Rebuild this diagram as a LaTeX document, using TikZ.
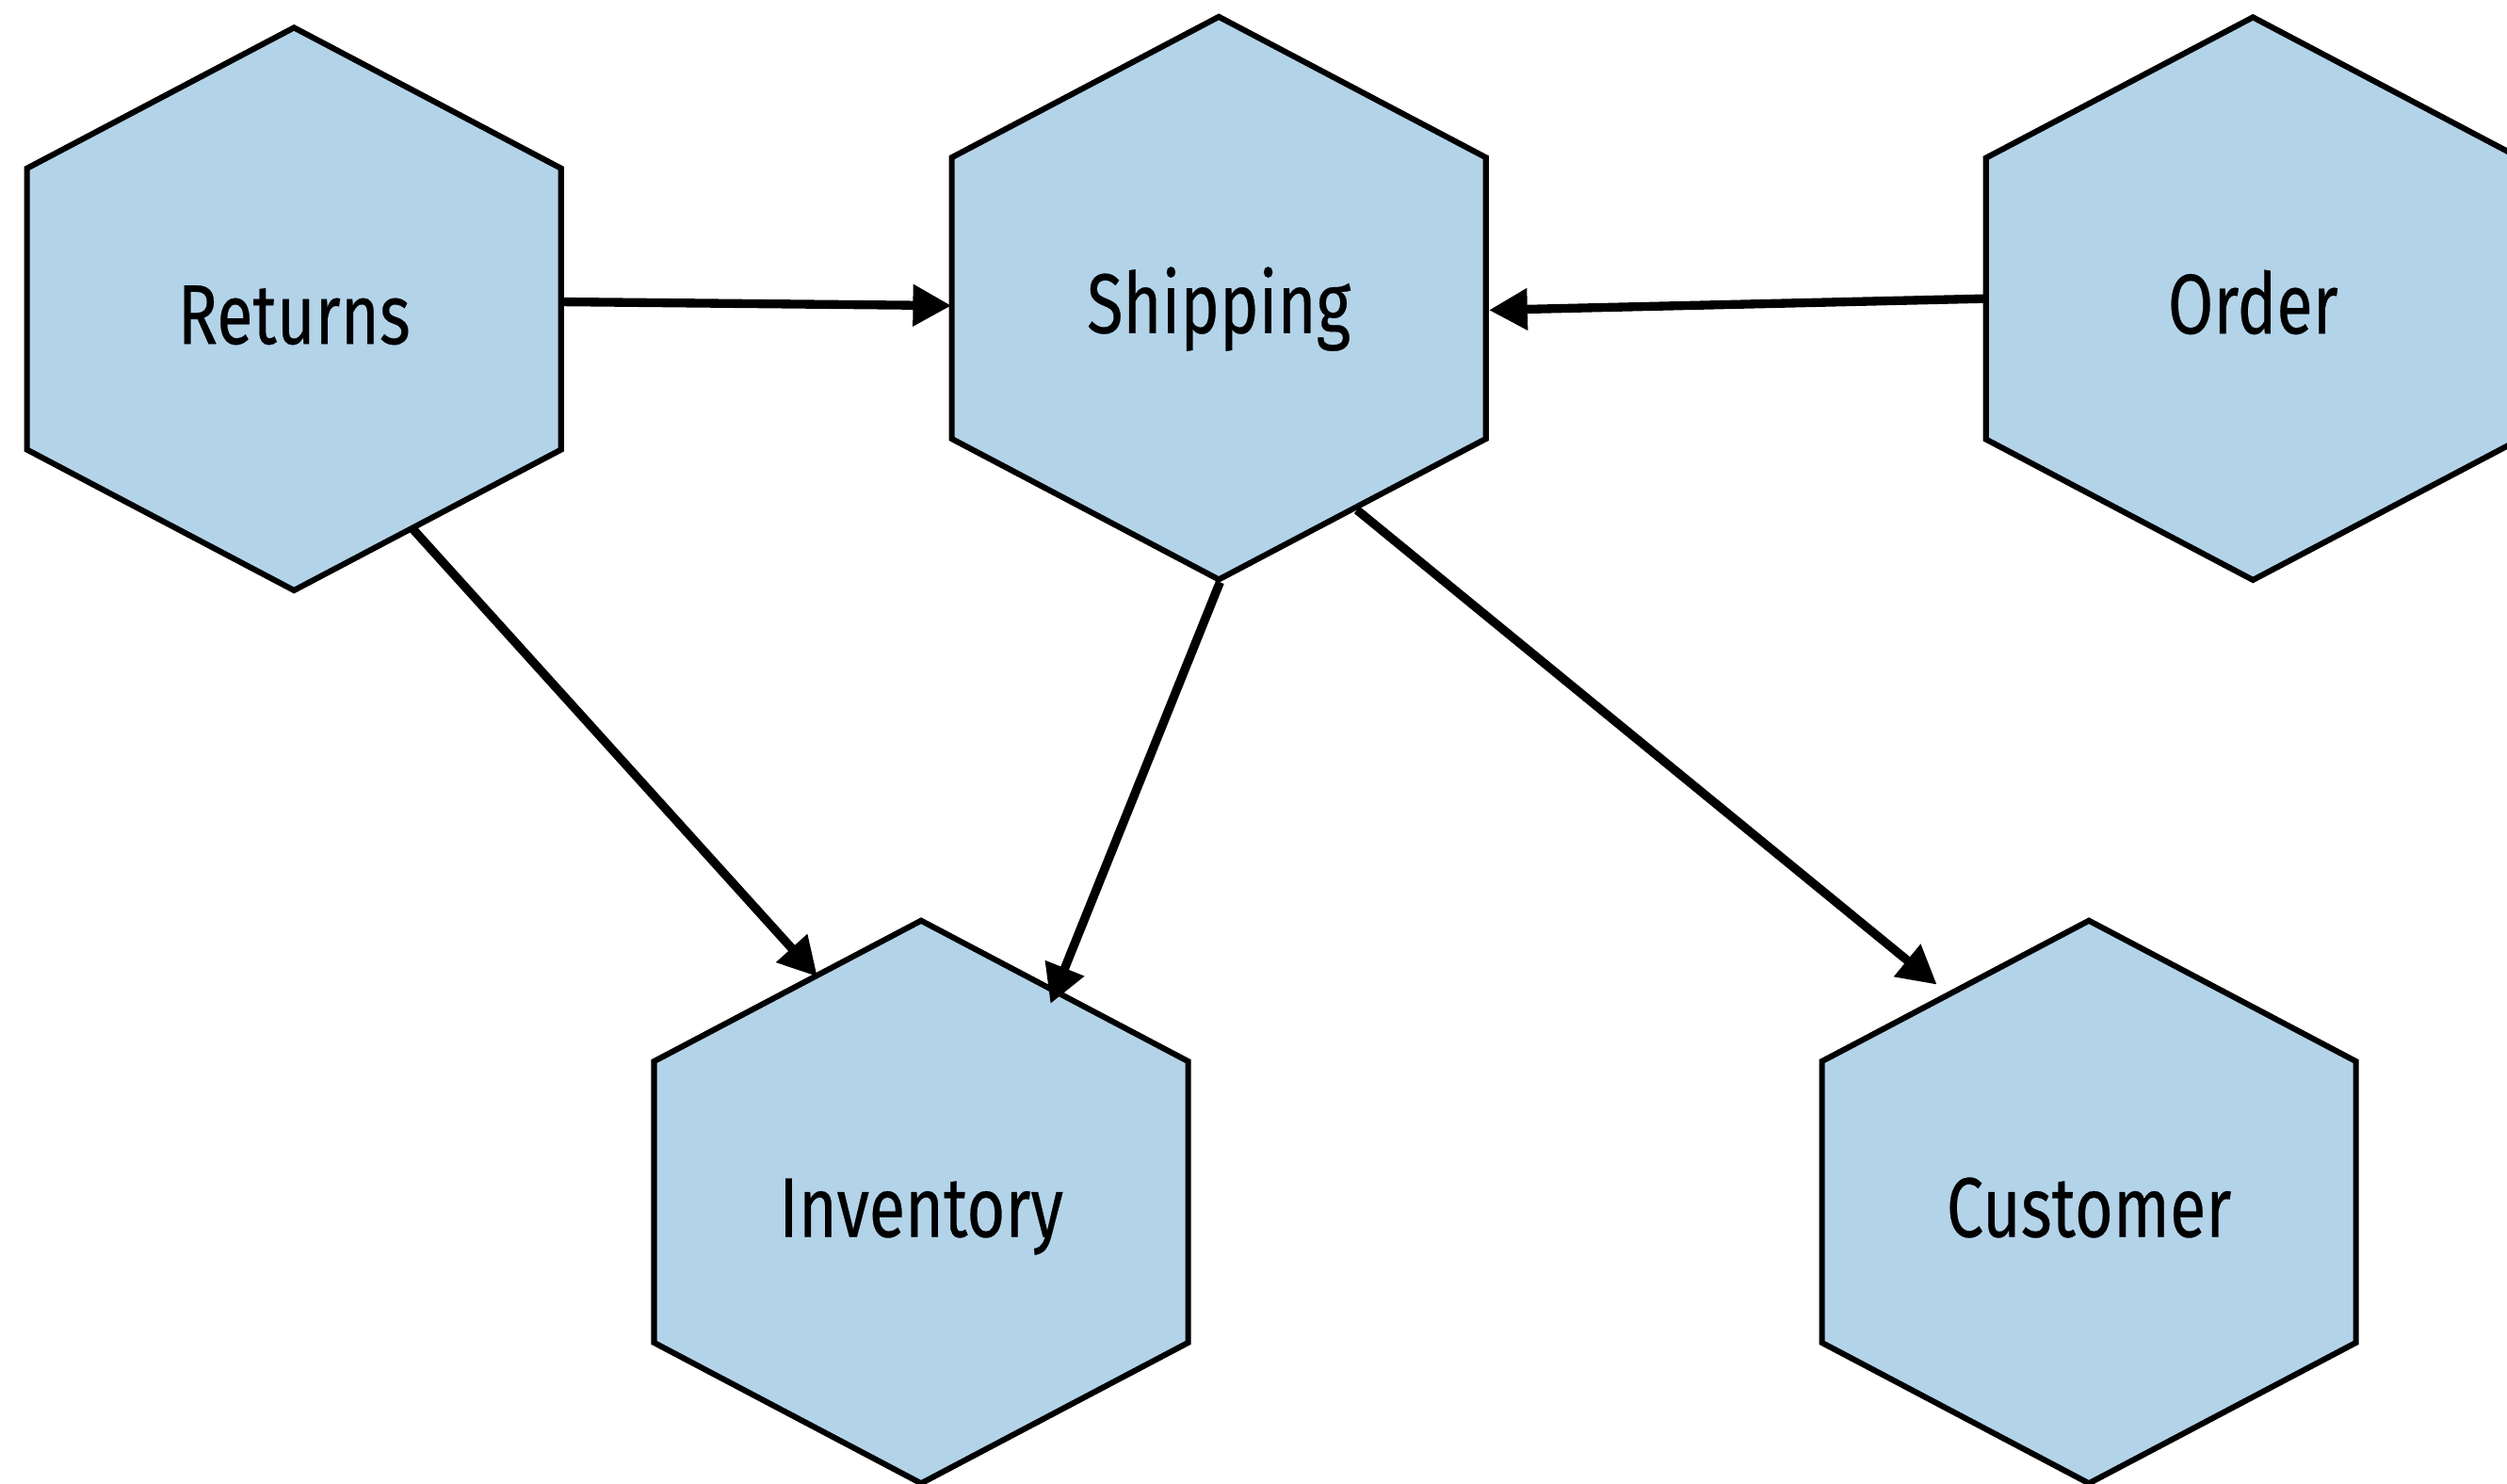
\documentclass[tikz,border=0pt]{standalone}
\usepackage{fontspec}
\setmainfont{Fira Sans}[FakeStretch=0.78,FakeBold=0.3]
\usetikzlibrary{arrows.meta,calc}
\definecolor{hexfill}{HTML}{B3D3E9}
\tikzset{
  hexborder/.style={draw=black, fill=hexfill, line width=3.6pt, line join=miter},
  hextext/.style={inner sep=0pt, text height=43.6pt, text depth=0pt, font=\fontsize{53}{60}\selectfont},
  flow/.style={draw=black, line width=5.5pt, -{Triangle[length=24pt,width=25pt]}}
}
\newcommand\hexnode[3]{%
  \draw[hexborder] (#2) ++(0,-176) -- ++(-167,88) -- ++(0,176) -- ++(167,88)
     -- ++(167,-88) -- ++(0,-176) -- cycle;
  \node[hextext] (#1) at (#2) {#3};
}
\begin{document}
\begin{tikzpicture}[x=1pt,y=-1pt]
\useasboundingbox (0,0) rectangle (1568,928.3);
\hexnode{ret}{183.9,193.3}{Returns}
\hexnode{shp}{762.3,186.5}{Shipping}
\hexnode{ord}{1409.1,186.8}{Order}
\hexnode{inv}{576.1,751.9}{Inventory}
\hexnode{cus}{1306.5,751.9}{Customer}
\draw[flow] ($(ret)+(167.3,-4.5)$) -- ($(shp)+(-167.3,4.7)$);
\draw[flow] ($(ord)+(-166.8,0)$) -- ($(shp)+(169,7.5)$);
\draw[flow] ($(ret)+(74.3,137.6)$) -- ($(inv)+(-64.9,-141)$);
\draw[flow] ($(shp)+(0.7,177.7)$) -- ($(inv)+(80.9,-124)$);
\draw[flow] ($(shp)+(86.4,132.5)$) -- ($(cus)+(-95.1,-136)$);
\end{tikzpicture}
\end{document}
